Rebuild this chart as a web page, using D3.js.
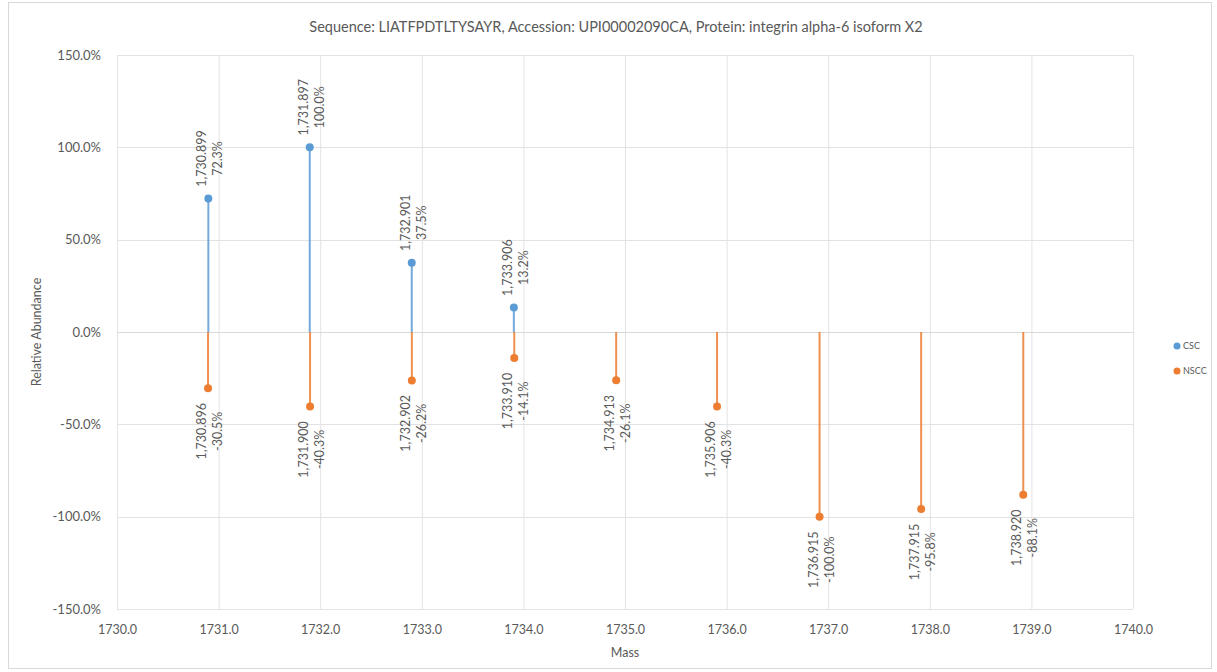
<!DOCTYPE html>
<html><head><meta charset="utf-8">
<script src="https://cdn.jsdelivr.net/npm/d3@7"></script>
<style>body{margin:0;background:#fff;} text{font-family:Lato,"Open Sans",sans-serif;fill:#595959;}</style>
</head><body><svg id="c" width="1217" height="672"></svg>
<script>
const title = "Sequence: LIATFPDTLTYSAYR, Accession: UPI00002090CA, Protein: integrin alpha-6 isoform X2";
const cscMass = [1730.899, 1731.897, 1732.901, 1733.906];
const cscValue = [72.3, 100.0, 37.5, 13.2];
const nsccMass = [1730.896, 1731.900, 1732.902, 1733.910, 1734.913, 1735.906, 1736.915, 1737.915, 1738.920];
const nsccValue = [-30.5, -40.3, -26.2, -14.1, -26.1, -40.3, -100.0, -95.8, -88.1];
const xTicks = [1730,1731,1732,1733,1734,1735,1736,1737,1738,1739,1740];
const yTicks = [-150,-100,-50,0,50,100,150];
const seriesNames = ["CSC","NSCC"];
const colors = ["#5b9bd5","#ed7d31"];

const svg = d3.select("#c");
const L=117,R=1133,T=55,B=609;
svg.append("rect").attr("x",8.5).attr("y",2.5).attr("width",1203).attr("height",666).attr("fill","#fff").attr("stroke","#d9d9d9");
const x = d3.scaleLinear().domain([1730,1740]).range([L,R]);
const y = d3.scaleLinear().domain([-150,150]).range([B,T]);

// grid
svg.append("g").selectAll("line").data(xTicks).join("line")
  .attr("x1",d=>x(d)+0.5).attr("x2",d=>x(d)+0.5).attr("y1",T).attr("y2",B).attr("stroke","#e3e3e3");
svg.append("g").selectAll("line").data(yTicks).join("line")
  .attr("x1",L).attr("x2",R).attr("y1",d=>Math.round(y(d))+0.5).attr("y2",d=>Math.round(y(d))+0.5)
  .attr("stroke",d=>d===0?"#d9d9d9":"#e3e3e3");

// axes
const fmtPct = d=>d3.format(".1f")(d).replace("\u2212","-")+"%";
const ya = svg.append("g").attr("transform",`translate(${L},0)`).call(d3.axisLeft(y).tickValues(yTicks).tickFormat(fmtPct).tickSize(0).tickPadding(16));
ya.select(".domain").remove();
ya.selectAll("text").style("font-size","13px").style("font-family","Lato,sans-serif").attr("fill","#595959");
const xa = svg.append("g").attr("transform",`translate(0,${B})`).call(d3.axisBottom(x).tickValues(xTicks).tickFormat(d3.format(".1f")).tickSize(0).tickPadding(16));
xa.select(".domain").remove();
xa.selectAll("text").style("font-size","12.5px").style("font-family","Lato,sans-serif").attr("fill","#595959");

svg.append("text").attr("x",616).attr("y",32).attr("text-anchor","middle").style("font-size","14.5px").text(title);
svg.append("text").attr("x",(L+R)/2).attr("y",657).attr("text-anchor","middle").style("font-size","12.5px").text("Mass");
svg.append("text").attr("transform",`translate(41,${(T+B)/2}) rotate(-90)`).attr("text-anchor","middle").style("font-size","12.5px").text("Relative Abundance");

const fmtMass = d3.format(",.3f");
function drawSeries(mass, vals, color){
  const data = mass.map((m,i)=>({m,v:vals[i]}));
  const g = svg.append("g");
  g.selectAll("line").data(data).join("line")
    .attr("x1",d=>x(d.m)).attr("x2",d=>x(d.m)).attr("y1",y(0)).attr("y2",d=>y(d.v))
    .attr("stroke",color).attr("stroke-width",2).attr("stroke-opacity",0.85);
  g.selectAll("circle").data(data).join("circle")
    .attr("cx",d=>x(d.m)).attr("cy",d=>y(d.v)).attr("r",4).attr("fill",color);
  const lab = g.selectAll("g.lab").data(data).join("g").attr("class","lab")
    .attr("transform",d=>{
      const yy = d.v>=0 ? y(d.v)-40 : y(d.v)+43;
      return `translate(${x(d.m)+2},${yy}) rotate(-90)`;
    });
  lab.append("text").attr("text-anchor","middle").attr("y",-4).style("font-size","12.5px").text(d=>fmtMass(d.m));
  lab.append("text").attr("text-anchor","middle").attr("y",12).style("font-size","12.5px").text(d=>fmtPct(d.v));
}
drawSeries(cscMass, cscValue, colors[0]);
drawSeries(nsccMass, nsccValue, colors[1]);

const lg = svg.append("g");
seriesNames.forEach((n,i)=>{
  lg.append("circle").attr("cx",1177).attr("cy",346+i*25).attr("r",3.5).attr("fill",colors[i]);
  lg.append("text").attr("x",1183).attr("y",349+i*25).style("font-size","9px").text(n);
});
</script></body></html>
